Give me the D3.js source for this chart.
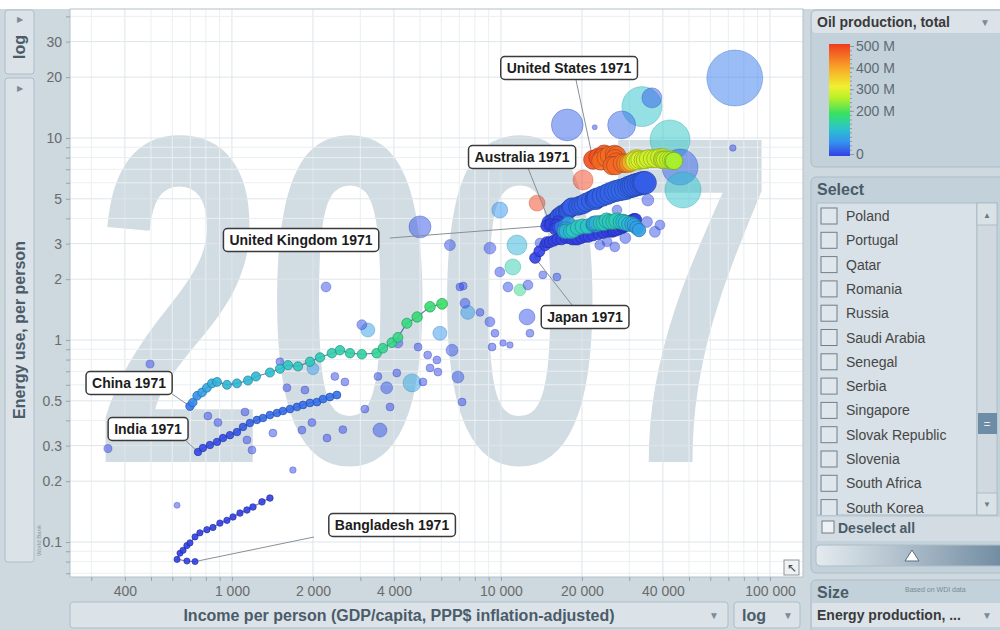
<!DOCTYPE html>
<html>
<head>
<meta charset="utf-8">
<script src="https://cdn.jsdelivr.net/npm/d3@7"></script>
<style>
  body { margin: 0; background: #fff; }
  svg { display: block; font-family: "Liberation Sans", Arial, sans-serif; }
</style>
</head>
<body>
<svg id="chart" width="1000" height="630"></svg>
<script>
// ---- data (income per person, energy use per person, oil production M, energy production per person) ----
const year = '2007';
const incomeTicks = [400, 1000, 2000, 4000, 10000, 20000, 40000, 100000];
const energyTicks = [0.1, 0.2, 0.3, 0.5, 1, 2, 3, 5, 10, 20, 30];
const oilTicks = [0, 200, 300, 400, 500];
const countryList = ['Poland', 'Portugal', 'Qatar', 'Romania', 'Russia', 'Saudi Arabia', 'Senegal',
  'Serbia', 'Singapore', 'Slovak Republic', 'Slovenia', 'South Africa', 'South Korea'];

const bangladesh = [[729,0.080,0,0.05],[680,0.0805,0,0.05],[625,0.082,0,0.05],[641,0.088,0,0.05],[658,0.091,0,0.06],
  [680,0.096,0,0.06],[698,0.099,0,0.06],[729,0.106,0,0.06],[760,0.111,0,0.07],[807,0.115,0,0.07],[850,0.118,0,0.07],
  [902,0.124,0,0.08],[958,0.128,0,0.08],[1009,0.133,0,0.08],[1071,0.139,0,0.09],[1137,0.144,0,0.09],[1197,0.149,0,0.1],
  [1293,0.158,0,0.1],[1384,0.165,0,0.1]];

const india = [[748,0.279,7,0.25],[780,0.292,8,0.25],[828,0.302,8,0.25],[880,0.313,9,0.25],[926,0.327,10,0.26],
  [983,0.338,12,0.26],[1044,0.350,15,0.27],[1099,0.371,20,0.28],[1166,0.388,25,0.28],[1238,0.402,30,0.29],
  [1304,0.411,32,0.29],[1384,0.425,33,0.3],[1470,0.435,33,0.3],[1547,0.445,32,0.3],[1643,0.455,33,0.31],
  [1745,0.466,34,0.31],[1837,0.477,34,0.32],[1950,0.488,35,0.32],[2070,0.493,35,0.33],[2180,0.510,36,0.33],
  [2313,0.522,36,0.34],[2455,0.534,36,0.35]];

const china = [[698,0.47,40,0.5],[715,0.49,55,0.5],[742,0.53,65,0.55],[774,0.55,75,0.6],[807,0.58,85,0.6],
  [843,0.61,95,0.65],[880,0.62,100,0.65],[958,0.60,105,0.65],[1044,0.61,105,0.65],[1147,0.63,108,0.7],
  [1228,0.66,110,0.7],[1384,0.69,115,0.7],[1508,0.72,120,0.7],[1615,0.75,125,0.75],[1760,0.74,128,0.75],
  [1950,0.78,132,0.8],[2125,0.82,136,0.8],[2352,0.86,140,0.85],[2520,0.89,142,0.85],[2746,0.86,145,0.85],
  [3040,0.85,150,0.85],[3450,0.86,155,0.9],[3640,0.91,160,0.9],[3930,0.97,165,0.95],[4140,1.03,168,1.0],
  [4470,1.21,172,1.1],[4880,1.30,176,1.2],[5450,1.46,180,1.3],[6040,1.51,186,1.4]];

const japan = [[13400,2.55,1,1.5],[13900,2.75,1,1.5],[14600,2.95,1,1.5],[14800,3.05,1,1.5],[15200,3.05,1,1.5],
  [15700,3.10,1,1.5],[16200,3.15,1,1.5],[16800,3.15,1,1.5],[17400,3.20,1,1.5],[17900,3.20,1,1.6],[18400,3.15,1,1.6],
  [18900,3.15,1,1.6],[19300,3.15,1,1.6],[19900,3.20,1,1.6],[20600,3.25,1,1.7],[21200,3.25,1,1.7],[22000,3.30,1,1.7],
  [23100,3.35,1,1.7],[24000,3.40,1,1.7],[24900,3.45,1,1.8],[25600,3.45,1,1.8],[26100,3.45,1,1.8],[26300,3.50,1,1.8],
  [26900,3.50,1,1.9],[27500,3.55,1,1.9],[28300,3.60,1,1.9],[28700,3.65,1,1.9],[28400,3.65,1,1.9],[28500,3.70,1,1.9],
  [29200,3.75,1,1.9],[29500,3.80,1,1.9],[29900,3.85,1,1.9],[30300,3.85,1,1.9],[30700,3.90,1,1.9],[31100,3.95,1,1.9],
  [31400,3.95,1,1.9],[31700,3.95,1,1.9]];

const australia = [[15200,3.80,15,5.0],[15600,3.85,16,5.2],[16000,3.95,17,5.4],[16300,4.05,18,5.6],[16400,4.10,20,5.8],
  [16800,4.20,21,6.0],[17200,4.25,22,6.2],[17600,4.35,22,6.4],[17800,4.40,23,6.6],[18100,4.50,24,6.8],[18400,4.55,24,7.0],
  [18300,4.55,24,7.2],[19300,4.60,24,7.4],[19800,4.65,25,7.6],[20300,4.70,26,7.8],[20800,4.80,26,8.0],[21600,4.90,26,8.3],
  [22300,5.00,25,8.6],[22600,5.00,25,8.9],[22500,4.95,25,9.2],[22800,5.05,25,9.5],[23800,5.15,26,9.8],[24700,5.25,26,10.1],
  [25500,5.35,27,10.4],[26500,5.45,28,10.7],[27300,5.50,30,11.0],[28100,5.55,30,11.3],[29000,5.60,29,11.6],
  [29800,5.70,28,11.9],[30500,5.75,27,12.2],[31000,5.80,26,12.4],[31600,5.85,25,12.6],[32400,5.90,24,12.8],
  [33200,5.95,23,13.0],[33800,6.00,22,13.1],[34300,6.00,22,13.2]];

const unitedKingdom = [[14800,3.67,0,2.0],[15300,3.72,0,2.0],[16300,3.85,0,2.0],[16000,3.70,1,1.9],[15900,3.55,2,2.0],
  [16300,3.60,12,2.2],[16700,3.62,38,2.6],[17300,3.68,54,2.9],[17800,3.78,77,3.3],[17400,3.55,80,3.4],[17200,3.45,89,3.6],
  [17500,3.45,103,3.8],[18200,3.45,115,4.0],[18600,3.50,126,4.0],[19300,3.60,128,4.1],[20100,3.65,127,4.1],
  [21000,3.65,123,4.0],[22000,3.72,114,3.8],[22400,3.75,92,3.4],[22500,3.70,92,3.4],[22100,3.75,91,3.4],
  [22100,3.78,94,3.5],[22600,3.80,100,3.7],[23500,3.80,127,4.1],[24100,3.80,130,4.3],[24700,3.90,130,4.4],
  [25400,3.85,128,4.3],[26200,3.85,133,4.4],[26900,3.90,137,4.6],[27900,3.85,126,4.4],[28500,3.85,117,4.2],
  [29100,3.80,116,4.2],[29900,3.75,106,4.0],[30700,3.75,95,3.7],[31300,3.70,85,3.4],[31900,3.60,77,3.1],
  [32600,3.50,77,2.9]];

const unitedStates = [[22000,7.8,480,8.0],[23000,8.0,480,8.0],[24200,8.3,475,7.8],[23900,8.0,465,7.6],[23500,7.7,455,7.4],
  [24600,8.0,450,7.4],[25300,8.2,450,7.4],[26400,8.3,455,7.4],[26900,8.2,455,7.5],[26500,7.9,460,7.6],[26800,7.6,460,7.6],
  [25900,7.3,460,7.4],[26700,7.3,455,7.4],[28300,7.5,450,7.8],[29100,7.5,440,7.6],[29800,7.5,420,7.4],[30500,7.6,380,7.4],
  [31300,7.8,340,7.6],[32000,7.9,310,7.4],[32100,7.8,300,7.4],[31500,7.7,295,7.4],[32300,7.7,290,7.2],[32800,7.8,285,7.0],
  [33800,7.8,285,7.2],[34400,7.8,280,7.0],[35300,7.9,280,7.0],[36500,7.9,280,7.0],[37600,7.9,275,7.0],[38800,8.0,275,6.8],
  [40000,8.0,275,6.8],[39800,7.8,275,6.8],[40200,7.8,270,6.6],[40800,7.8,270,6.6],[41900,7.8,265,6.6],[42900,7.8,260,6.4],
  [43600,7.7,255,6.4],[44000,7.7,250,6.4]];

// other countries, 2007 only
const others = [[346,0.29,3,0.4],[496,0.76,5,0.4],[625,0.152,5,0.05],[814,0.42,5,0.37],[887,0.39,5,0.37],
  [1118,0.44,5,0.37],[1137,0.32,5,0.37],[1187,0.285,5,0.37],[1420,0.346,5,0.37],[1508,0.78,5,0.37],[1601,0.58,5,0.37],
  [1685,0.227,5,0.1],[1820,0.358,5,0.37],[1868,0.565,5,0.37],[1983,0.39,5,0.37],[2000,0.72,70,2.0],[2256,0.327,5,0.37],
  [2237,1.83,10,1.0],[2413,0.66,5,0.37],[2584,0.36,5,0.37],[2630,0.62,5,0.37],[3040,1.19,10,1.0],[3200,1.12,75,3.4],
  [3120,0.455,5,0.37],[3490,0.66,5,0.37],[3550,0.358,15,3.4],[3760,0.58,15,2.0],[3870,0.466,5,0.37],[4100,0.686,5,0.37],
  [4140,0.966,10,1.0],[4670,0.613,85,7.0],[4920,0.923,5,0.37],[5130,0.62,5,0.37],[5340,0.843,5,0.37],[5450,0.727,5,0.37],
  [5780,0.796,5,0.37],[5830,0.694,5,0.37],[5930,1.08,70,3.4],[6580,0.89,15,2.0],[6920,0.656,15,2.0],[7040,1.83,5,0.37],
  [7170,0.493,5,0.37],[7350,1.52,10,1.0],[7530,1.37,70,3.4],[5000,3.63,15,12],[6460,2.95,10,1.5],[7240,1.85,5,0.37],
  [8360,1.37,5,0.37],[9100,1.23,5,1.0],[9500,1.08,5,0.37],[9900,4.40,65,5.0],[11470,2.95,100,9.4],[11070,2.30,140,5.0],
  [11770,1.77,165,2.0],[12600,1.87,10,1.0],[12500,1.30,15,5.0],[9100,2.85,10,2.0],[9900,2.17,10,1.0],[10620,1.83,10,1.0],
  [14310,2.10,10,0.37],[16140,2.05,10,0.37],[12820,1.08,10,0.37],[9270,0.923,5,0.37],[10180,0.966,5,0.1],[10800,0.945,5,0.1],
  [17640,11.6,25,30],[22320,11.3,5,0],[28100,11.6,30,22],[33420,14.3,120,51],[36400,15.8,20,9.4],[42520,9.78,125,51],
  [74000,19.8,45,108],[72800,8.92,5,0.1],[46300,7.18,25,40],[47500,5.53,120,40],[13620,4.76,490,5.0],[20200,6.19,490,9.4],
  [35160,4.93,10,2.0],[27000,4.40,10,1.0],[37350,3.43,15,1.5],[39000,3.71,10,1.0],[24800,3.06,10,1.0],[26500,2.89,10,1.0],
  [29000,3.20,10,1.5],[34900,3.84,10,1.5],[23300,2.95,10,1.0],[13970,3.02,10,1.0]];

const trails = [
  { name: 'Bangladesh 1971', pts: bangladesh },
  { name: 'India 1971', pts: india },
  { name: 'China 1971', pts: china },
  { name: 'Japan 1971', pts: japan },
  { name: 'Australia 1971', pts: australia },
  { name: 'United Kingdom 1971', pts: unitedKingdom },
  { name: 'United States 1971', pts: unitedStates }
];

// label box centre and the point on the box where its leader starts
const labelPos = {
  'United States 1971': { c: [569, 68], a: [576, 80] },
  'Australia 1971': { c: [522, 157], a: [528, 168] },
  'United Kingdom 1971': { c: [301, 240], a: [390, 238] },
  'Japan 1971': { c: [585, 317], a: [572, 305] },
  'China 1971': { c: [129, 383], a: [172, 394] },
  'India 1971': { c: [148, 429], a: [186, 441] },
  'Bangladesh 1971': { c: [392, 525], a: [314, 537] }
};

// ---- setup ----
const svg = d3.select('#chart');
const W = 1000, H = 630;
const plot = { left: 70, right: 803, top: 9, bottom: 577 };
const bg = '#cdd8df', panel = '#c3d1da', light = '#dbe3e9', edge = '#aebdc7', ink = '#4b5c69';

const x = d3.scaleLog().domain([250, 132700]).range([plot.left, plot.right]);
const y = d3.scaleLog().domain([0.0671, 43.5]).range([plot.bottom, plot.top]);
const r = d3.scaleSqrt().domain([0, 100]).range([2.5, 27]);
const oilStops = [0, 60, 120, 150, 190, 260, 310, 400, 500];
const oilColors = ['#3340e4', '#3590f0', '#2cc2cc', '#30d2a0', '#38e060', '#b8f028', '#f0f030', '#f8a028', '#f03a1e'];
const color = d3.scaleLinear().domain(oilStops).range(oilColors);

const defs = svg.append('defs');
defs.append('clipPath').attr('id', 'plotClip').append('rect')
  .attr('x', plot.left).attr('y', plot.top)
  .attr('width', plot.right - plot.left).attr('height', plot.bottom - plot.top);

svg.append('rect').attr('width', W).attr('height', H).attr('fill', '#fff');
svg.append('rect').attr('y', 9).attr('width', W).attr('height', H - 9).attr('fill', bg);

// plot area
svg.append('rect')
  .attr('x', plot.left).attr('y', plot.top)
  .attr('width', plot.right - plot.left).attr('height', plot.bottom - plot.top)
  .attr('fill', '#fff');

// big year in the background
svg.append('g').attr('clip-path', 'url(#plotClip)').append('text')
  .attr('x', 95).attr('y', 462)
  .attr('textLength', 680).attr('lengthAdjust', 'spacingAndGlyphs')
  .style('font-size', '468px').style('font-weight', 'bold')
  .attr('fill', '#d2dce3')
  .text(year);

// grid values at 1..9 of each decade
const gridX = [], gridY = [];
[100, 1000, 10000, 100000].forEach(b => d3.range(1, 10).forEach(k => {
  if (b * k >= x.domain()[0] && b * k <= x.domain()[1]) gridX.push(b * k);
}));
[0.01, 0.1, 1, 10].forEach(b => d3.range(1, 10).forEach(k => {
  const v = +(b * k).toPrecision(3);
  if (v >= y.domain()[0] && v <= y.domain()[1]) gridY.push(v);
}));

const grid = svg.append('g').attr('clip-path', 'url(#plotClip)');
grid.selectAll('line.gx').data(gridX).enter().append('line')
  .attr('x1', d => x(d)).attr('x2', d => x(d))
  .attr('y1', plot.top).attr('y2', plot.bottom)
  .attr('stroke', d => incomeTicks.includes(d) ? '#dfe5e9' : '#ebeff1').attr('stroke-width', 1);
grid.selectAll('line.gy').data(gridY).enter().append('line')
  .attr('y1', d => y(d)).attr('y2', d => y(d))
  .attr('x1', plot.left).attr('x2', plot.right)
  .attr('stroke', d => energyTicks.includes(d) ? '#dfe5e9' : '#ebeff1').attr('stroke-width', 1);

svg.append('rect')
  .attr('x', plot.left).attr('y', plot.top)
  .attr('width', plot.right - plot.left).attr('height', plot.bottom - plot.top)
  .attr('fill', 'none').attr('stroke', '#b4c1ca');

// axes (only labelled ticks keep their text)
const fmtX = d3.formatLocale({ decimal: '.', thousands: ' ', grouping: [3], currency: ['', ''] }).format(',');
svg.append('g')
  .attr('transform', `translate(0,${plot.bottom})`)
  .call(d3.axisBottom(x).tickValues(gridX).tickSize(4)
    .tickFormat(d => incomeTicks.includes(d) ? fmtX(d) : ''))
  .call(g => {
    g.select('.domain').remove();
    g.selectAll('line').attr('stroke', '#98a4ad');
    g.selectAll('text').filter(d => !incomeTicks.includes(d)).remove();
    g.selectAll('text').attr('fill', '#6b6b6b').attr('y', 9).style('font-size', '14px');
  });

svg.append('g')
  .attr('transform', `translate(${plot.left},0)`)
  .call(d3.axisLeft(y).tickValues(gridY).tickSize(4).tickPadding(4)
    .tickFormat(d => energyTicks.includes(d) ? String(d) : ''))
  .call(g => {
    g.select('.domain').remove();
    g.selectAll('line').attr('stroke', '#98a4ad');
    g.selectAll('text').filter(d => !energyTicks.includes(d)).remove();
    g.selectAll('text').attr('fill', '#6b6b6b').style('font-size', '14px');
  });

// ---- bubbles ----
const marks = svg.append('g').attr('clip-path', 'url(#plotClip)');

marks.append('g').selectAll('circle')
  .data(others.slice().sort((a, b) => b[3] - a[3]))
  .enter().append('circle')
  .attr('cx', d => x(d[0])).attr('cy', d => y(d[1])).attr('r', d => r(d[3]))
  .attr('fill', d => color(d[2])).attr('fill-opacity', 0.5)
  .attr('stroke', d => d3.color(color(d[2])).darker(0.6)).attr('stroke-opacity', 0.35);

// leader lines from labels to the 1971 point
trails.forEach(t => {
  const p = labelPos[t.name];
  marks.append('line')
    .attr('x1', p.a[0]).attr('y1', p.a[1])
    .attr('x2', x(t.pts[0][0])).attr('y2', y(t.pts[0][1]))
    .attr('stroke', '#8a8f94').attr('stroke-width', 1);
});

const line = d3.line().x(d => x(d[0])).y(d => y(d[1]));
trails.forEach(t => {
  const g = marks.append('g');
  g.append('path').datum(t.pts)
    .attr('d', line).attr('fill', 'none')
    .attr('stroke', '#3a3f8f').attr('stroke-opacity', 0.7).attr('stroke-width', 1.2);
  g.selectAll('circle').data(t.pts).enter().append('circle')
    .attr('cx', d => x(d[0])).attr('cy', d => y(d[1])).attr('r', d => r(d[3]))
    .attr('fill', d => color(d[2])).attr('fill-opacity', 0.9)
    .attr('stroke', d => d3.color(color(d[2])).darker(1)).attr('stroke-width', 1).attr('stroke-opacity', 0.7);
});

// trail labels
trails.forEach(t => {
  const p = labelPos[t.name];
  const g = svg.append('g');
  const txt = g.append('text')
    .attr('x', p.c[0]).attr('y', p.c[1] + 5)
    .attr('text-anchor', 'middle')
    .style('font-size', '14px').style('font-weight', 'bold')
    .attr('fill', '#1c1c1c')
    .text(t.name);
  const bb = txt.node().getBBox();
  g.insert('rect', 'text')
    .attr('x', bb.x - 6).attr('y', p.c[1] - 11.5)
    .attr('width', bb.width + 12).attr('height', 23).attr('rx', 4)
    .attr('fill', '#fff').attr('stroke', '#3a3a3a').attr('stroke-width', 1.5);
});

// resize icon in plot corner
svg.append('rect').attr('x', 784).attr('y', 560).attr('width', 15).attr('height', 15)
  .attr('fill', '#eef2f4').attr('stroke', '#8b969e');
svg.append('text').attr('x', 791.5).attr('y', 572).attr('text-anchor', 'middle')
  .style('font-size', '12px').attr('fill', '#444').text('↖');

// ---- left controls ----
svg.append('rect').attr('x', 5).attr('y', 10).attr('width', 29).attr('height', 64).attr('rx', 3)
  .attr('fill', light).attr('stroke', edge);
svg.append('text').attr('x', 20).attr('y', 22).attr('text-anchor', 'middle')
  .style('font-size', '8px').attr('fill', '#7d8b95').text('▶');
svg.append('text').attr('transform', 'translate(25,47) rotate(-90)').attr('text-anchor', 'middle')
  .style('font-size', '16px').style('font-weight', 'bold').attr('fill', ink).text('log');

svg.append('rect').attr('x', 5).attr('y', 78).attr('width', 29).attr('height', 484).attr('rx', 3)
  .attr('fill', light).attr('stroke', edge);
svg.append('text').attr('x', 20).attr('y', 91).attr('text-anchor', 'middle')
  .style('font-size', '8px').attr('fill', '#7d8b95').text('▶');
svg.append('text').attr('transform', 'translate(25,330) rotate(-90)').attr('text-anchor', 'middle')
  .style('font-size', '16px').style('font-weight', 'bold').attr('fill', ink).text('Energy use, per person');

svg.append('text').attr('transform', 'translate(41,556) rotate(-90)')
  .style('font-size', '6px').attr('fill', '#8896a0').text('World Bank');

// ---- bottom controls ----
svg.append('rect').attr('x', 70).attr('y', 602).attr('width', 658).attr('height', 26).attr('rx', 3)
  .attr('fill', light).attr('stroke', edge);
svg.append('text').attr('x', 399).attr('y', 621).attr('text-anchor', 'middle')
  .style('font-size', '16px').style('font-weight', 'bold').attr('fill', ink)
  .text('Income per person (GDP/capita, PPP$ inflation-adjusted)');
svg.append('text').attr('x', 714).attr('y', 619).attr('text-anchor', 'middle')
  .style('font-size', '10px').attr('fill', '#7d8b95').text('▼');
svg.append('rect').attr('x', 734).attr('y', 602).attr('width', 66).attr('height', 26).attr('rx', 3)
  .attr('fill', light).attr('stroke', edge);
svg.append('text').attr('x', 742).attr('y', 621)
  .style('font-size', '16px').style('font-weight', 'bold').attr('fill', ink).text('log');
svg.append('text').attr('x', 788).attr('y', 619).attr('text-anchor', 'middle')
  .style('font-size', '10px').attr('fill', '#7d8b95').text('▼');

// ---- right panel: colour legend ----
svg.append('rect').attr('x', 811).attr('y', 10).attr('width', 195).attr('height', 157).attr('rx', 5)
  .attr('fill', panel).attr('stroke', edge);
svg.append('rect').attr('x', 812).attr('y', 11).attr('width', 193).attr('height', 22).attr('rx', 4)
  .attr('fill', light);
svg.append('text').attr('x', 817).attr('y', 27)
  .style('font-size', '14px').style('font-weight', 'bold').attr('fill', '#3a3a3a').text('Oil production, total');
svg.append('text').attr('x', 985).attr('y', 26).attr('text-anchor', 'middle')
  .style('font-size', '10px').attr('fill', '#7d8b95').text('▼');

const oilY = d3.scaleLinear().domain([0, 500]).range([154, 46]);
const grad = defs.append('linearGradient').attr('id', 'oilGrad')
  .attr('x1', 0).attr('y1', 1).attr('x2', 0).attr('y2', 0);
grad.selectAll('stop').data(oilStops).enter().append('stop')
  .attr('offset', d => d / 500).attr('stop-color', d => color(d));
svg.append('rect').attr('x', 829).attr('y', 44).attr('width', 21).attr('height', 112)
  .attr('fill', 'url(#oilGrad)');
svg.append('g').attr('transform', 'translate(850,0)')
  .call(d3.axisRight(oilY).tickValues(d3.range(0, 501, 20)).tickSize(2).tickFormat(''))
  .call(g => { g.select('.domain').remove(); g.selectAll('text').remove(); g.selectAll('line').attr('stroke', '#8d9aa3'); });
svg.append('g').attr('transform', 'translate(850,0)')
  .call(d3.axisRight(oilY).tickValues(oilTicks).tickSize(4).tickPadding(2)
    .tickFormat(d => d === 0 ? '0' : d + ' M'))
  .call(g => {
    g.select('.domain').remove();
    g.selectAll('line').attr('stroke', '#8d9aa3');
    g.selectAll('text').attr('fill', '#5f6a72').style('font-size', '14px');
  });

// ---- right panel: select list ----
svg.append('rect').attr('x', 811).attr('y', 177).attr('width', 195).attr('height', 396).attr('rx', 5)
  .attr('fill', panel).attr('stroke', edge);
svg.append('text').attr('x', 817).attr('y', 195)
  .style('font-size', '16px').style('font-weight', 'bold').attr('fill', ink).text('Select');
svg.append('rect').attr('x', 817).attr('y', 203).attr('width', 160).attr('height', 312)
  .attr('fill', '#d8e1e7').attr('stroke', edge);
defs.append('clipPath').attr('id', 'listClip').append('rect')
  .attr('x', 817).attr('y', 203).attr('width', 160).attr('height', 312);
const list = svg.append('g').attr('clip-path', 'url(#listClip)');
const item = list.selectAll('g').data(countryList).enter().append('g')
  .attr('transform', (d, i) => `translate(0,${216 + i * 24.3})`);
item.append('rect').attr('x', 821).attr('y', -8).attr('width', 16).attr('height', 16)
  .attr('fill', '#dfe7ec').attr('stroke', '#6f7f8a');
item.append('text').attr('x', 846).attr('y', 5)
  .style('font-size', '14px').attr('fill', '#464646').text(d => d);

// scrollbar
svg.append('rect').attr('x', 977).attr('y', 203).attr('width', 20).attr('height', 312)
  .attr('fill', '#cfd9df').attr('stroke', edge);
svg.append('rect').attr('x', 977).attr('y', 203).attr('width', 20).attr('height', 22)
  .attr('fill', '#d9e2e7').attr('stroke', edge);
svg.append('text').attr('x', 987).attr('y', 218).attr('text-anchor', 'middle')
  .style('font-size', '8px').attr('fill', '#6c7a84').text('▲');
svg.append('rect').attr('x', 977).attr('y', 493).attr('width', 20).attr('height', 22)
  .attr('fill', '#d9e2e7').attr('stroke', edge);
svg.append('text').attr('x', 987).attr('y', 507).attr('text-anchor', 'middle')
  .style('font-size', '8px').attr('fill', '#6c7a84').text('▼');
svg.append('rect').attr('x', 978).attr('y', 413).attr('width', 19).attr('height', 21)
  .attr('fill', '#6d8ca6');
svg.append('text').attr('x', 987).attr('y', 428).attr('text-anchor', 'middle')
  .style('font-size', '12px').attr('fill', '#e4ecf1').text('=');

// deselect all + slider
svg.append('rect').attr('x', 817).attr('y', 517).attr('width', 188).attr('height', 24)
  .attr('fill', '#d2dce2');
svg.append('rect').attr('x', 822).attr('y', 521).attr('width', 12).attr('height', 12)
  .attr('fill', '#eef2f4').attr('stroke', '#6f7f8a');
svg.append('text').attr('x', 838).attr('y', 533)
  .style('font-size', '14px').style('font-weight', 'bold').attr('fill', ink).text('Deselect all');
const sg = defs.append('linearGradient').attr('id', 'slideGrad');
sg.append('stop').attr('offset', 0).attr('stop-color', '#e4ebef');
sg.append('stop').attr('offset', 1).attr('stop-color', '#6f8aa0');
svg.append('rect').attr('x', 816).attr('y', 545).attr('width', 190).attr('height', 21).attr('rx', 4)
  .attr('fill', 'url(#slideGrad)').attr('stroke', edge);
svg.append('path').attr('d', 'M905,561 L912,550 L919,561 Z')
  .attr('fill', '#fff').attr('stroke', '#5c6c78');

// ---- right panel: size ----
svg.append('rect').attr('x', 811).attr('y', 580).attr('width', 195).attr('height', 56).attr('rx', 5)
  .attr('fill', panel).attr('stroke', edge);
svg.append('text').attr('x', 817).attr('y', 598)
  .style('font-size', '16px').style('font-weight', 'bold').attr('fill', ink).text('Size');
svg.append('text').attr('x', 905).attr('y', 592)
  .style('font-size', '7px').attr('fill', '#7a8a96').text('Based on WDI data');
svg.append('rect').attr('x', 812).attr('y', 603).attr('width', 193).attr('height', 24)
  .attr('fill', light);
svg.append('text').attr('x', 817).attr('y', 620)
  .style('font-size', '14px').style('font-weight', 'bold').attr('fill', '#3a3a3a').text('Energy production, ...');
svg.append('text').attr('x', 987).attr('y', 619).attr('text-anchor', 'middle')
  .style('font-size', '10px').attr('fill', '#7d8b95').text('▼');
</script>
</body>
</html>
